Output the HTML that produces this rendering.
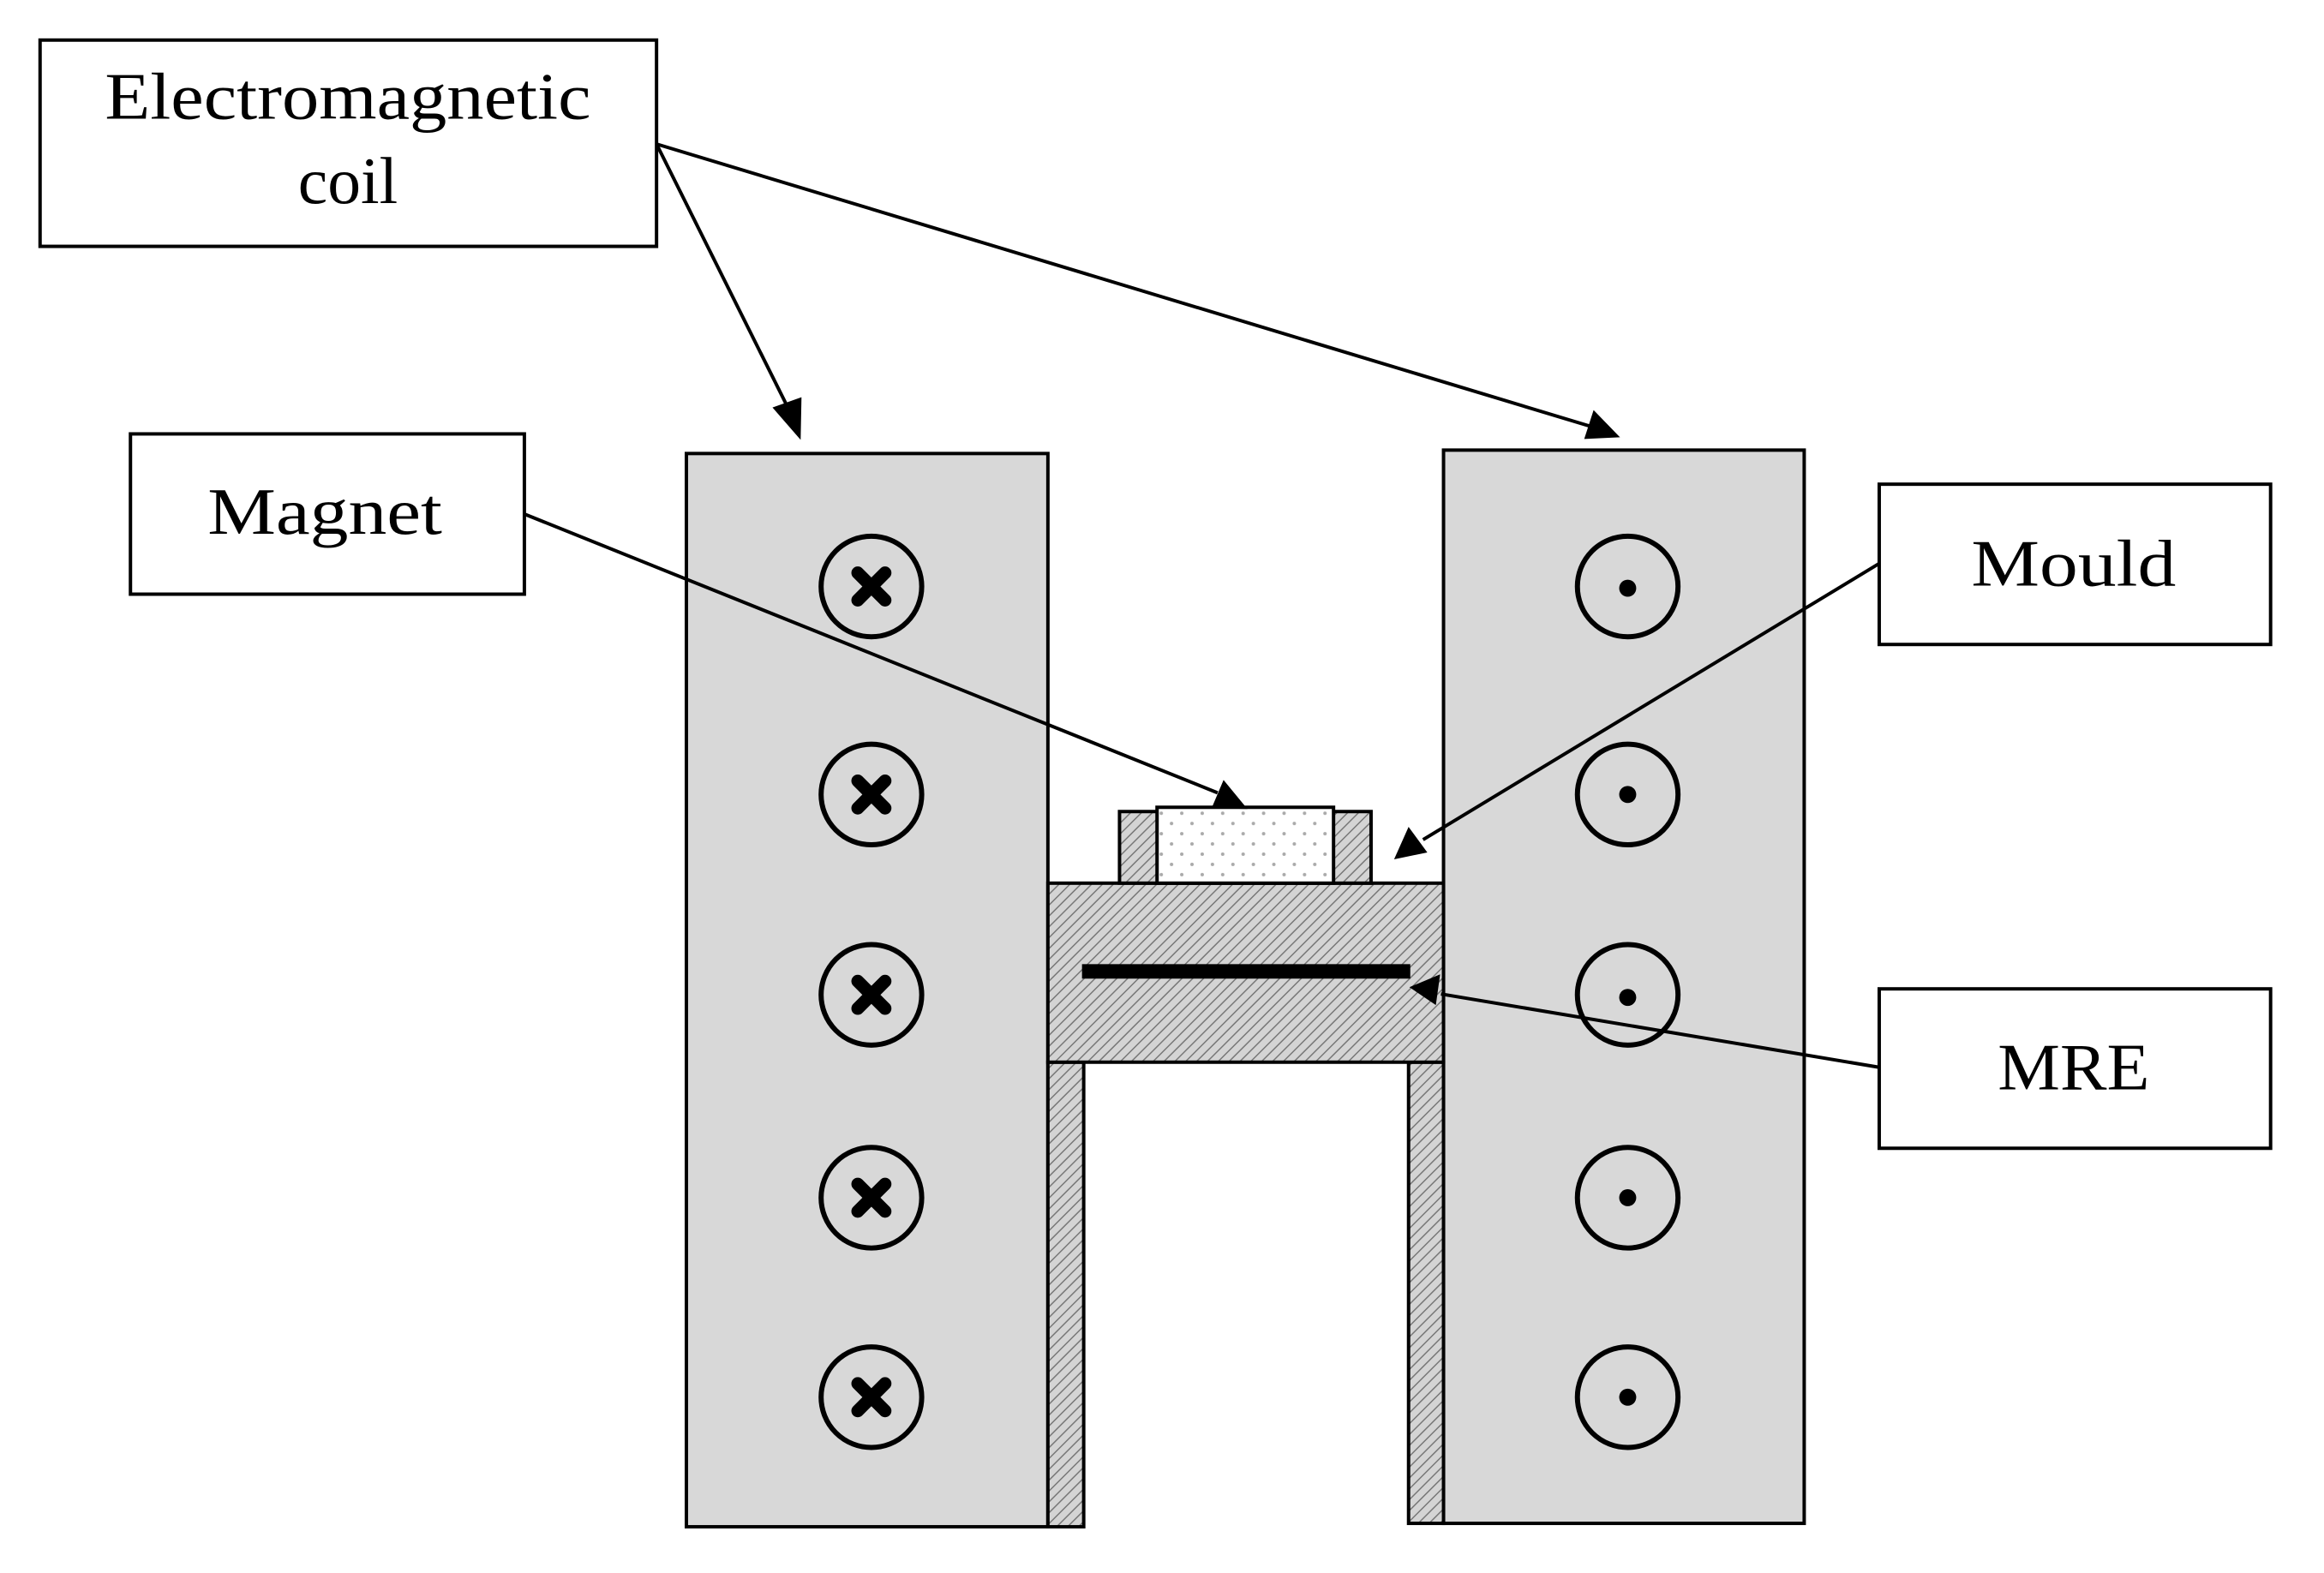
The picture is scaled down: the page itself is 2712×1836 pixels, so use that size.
<!DOCTYPE html>
<html><head><meta charset="utf-8"><style>html,body{margin:0;padding:0;background:#fff}svg{display:block}</style></head>
<body>
<svg width="2712" height="1836" viewBox="0 0 2712 1836" xmlns="http://www.w3.org/2000/svg">
<defs>
<pattern id="hatch" width="9" height="9" patternUnits="userSpaceOnUse" patternTransform="rotate(45)">
<rect width="9" height="9" fill="#d4d4d4"/><line x1="0" y1="0" x2="0" y2="9" stroke="#777" stroke-width="3"/>
</pattern>
<pattern id="dots" width="24" height="24" patternUnits="userSpaceOnUse">
<rect width="24" height="24" fill="#fff"/><circle cx="6" cy="6" r="2" fill="#aaa"/><circle cx="18" cy="18" r="2" fill="#aaa"/>
</pattern>
</defs>
<g transform="scale(0.995)">
<g stroke="#000" stroke-width="4">
<rect x="805" y="532" width="424" height="1259" fill="#d8d8d8"/>
<rect x="1693" y="528" width="423" height="1259" fill="#d8d8d8"/>
<rect x="1229" y="1246" width="42" height="545" fill="url(#hatch)"/>
<rect x="1652" y="1246" width="41" height="541" fill="url(#hatch)"/>
<rect x="1229" y="1036" width="464" height="210" fill="url(#hatch)"/>
<rect x="1313" y="952" width="295" height="84" fill="url(#hatch)"/>
<rect x="1357" y="947" width="207" height="89" fill="url(#dots)"/>
</g>
<rect x="1269" y="1131" width="385" height="17" fill="#000"/>
<g fill="none" stroke="#000" stroke-width="6">
<circle cx="1022" cy="688" r="59"/><circle cx="1022" cy="932" r="59"/><circle cx="1022" cy="1167" r="59"/><circle cx="1022" cy="1405" r="59"/><circle cx="1022" cy="1639" r="59"/>
<circle cx="1909" cy="688" r="59"/><circle cx="1909" cy="932" r="59"/><circle cx="1909" cy="1167" r="59"/><circle cx="1909" cy="1405" r="59"/><circle cx="1909" cy="1639" r="59"/>
</g>
<g stroke="#000" stroke-width="15" stroke-linecap="round">
<path d="M1006 672l32 32M1038 672l-32 32M1006 916l32 32M1038 916l-32 32M1006 1151l32 32M1038 1151l-32 32M1006 1389l32 32M1038 1389l-32 32M1006 1623l32 32M1038 1623l-32 32"/>
</g>
<g fill="#000"><circle cx="1909" cy="690" r="10"/><circle cx="1909" cy="932" r="10"/><circle cx="1909" cy="1170" r="10"/><circle cx="1909" cy="1405" r="10"/><circle cx="1909" cy="1639" r="10"/></g>
<g fill="#fff" stroke="#000" stroke-width="4">
<rect x="47" y="47" width="723" height="242"/>
<rect x="153" y="509" width="462" height="188"/>
<rect x="2204" y="568" width="459" height="188"/>
<rect x="2204" y="1160" width="459" height="187"/>
</g>
<g stroke="#000" stroke-width="4">
<line x1="770" y1="169" x2="925" y2="480"/>
<line x1="770" y1="169" x2="1865" y2="500"/>
<line x1="615" y1="603" x2="1428" y2="930"/>
<line x1="2204" y1="661" x2="1669" y2="985"/>
<line x1="2204" y1="1252" x2="1690" y2="1166"/>
</g>
<g fill="#000">
<polygon points="939,516 906,478 940,466"/>
<polygon points="1900,513 1858,515 1869,481"/>
<polygon points="1463,949 1421,948 1435,915"/>
<polygon points="1635,1008 1652,970 1674,1000"/>
<polygon points="1653,1158 1689,1143 1684,1179"/>
</g>
<g font-family="'Liberation Serif', serif" font-size="78" fill="#000" text-anchor="middle">
<text x="408" y="139" textLength="570" lengthAdjust="spacingAndGlyphs">Electromagnetic</text>
<text x="408" y="238">coil</text>
<text x="381" y="626" textLength="275" lengthAdjust="spacingAndGlyphs">Magnet</text>
<text x="2432" y="687" textLength="240" lengthAdjust="spacingAndGlyphs">Mould</text>
<text x="2432" y="1278" textLength="178" lengthAdjust="spacingAndGlyphs">MRE</text>
</g>
</g>
</svg>
</body></html>
